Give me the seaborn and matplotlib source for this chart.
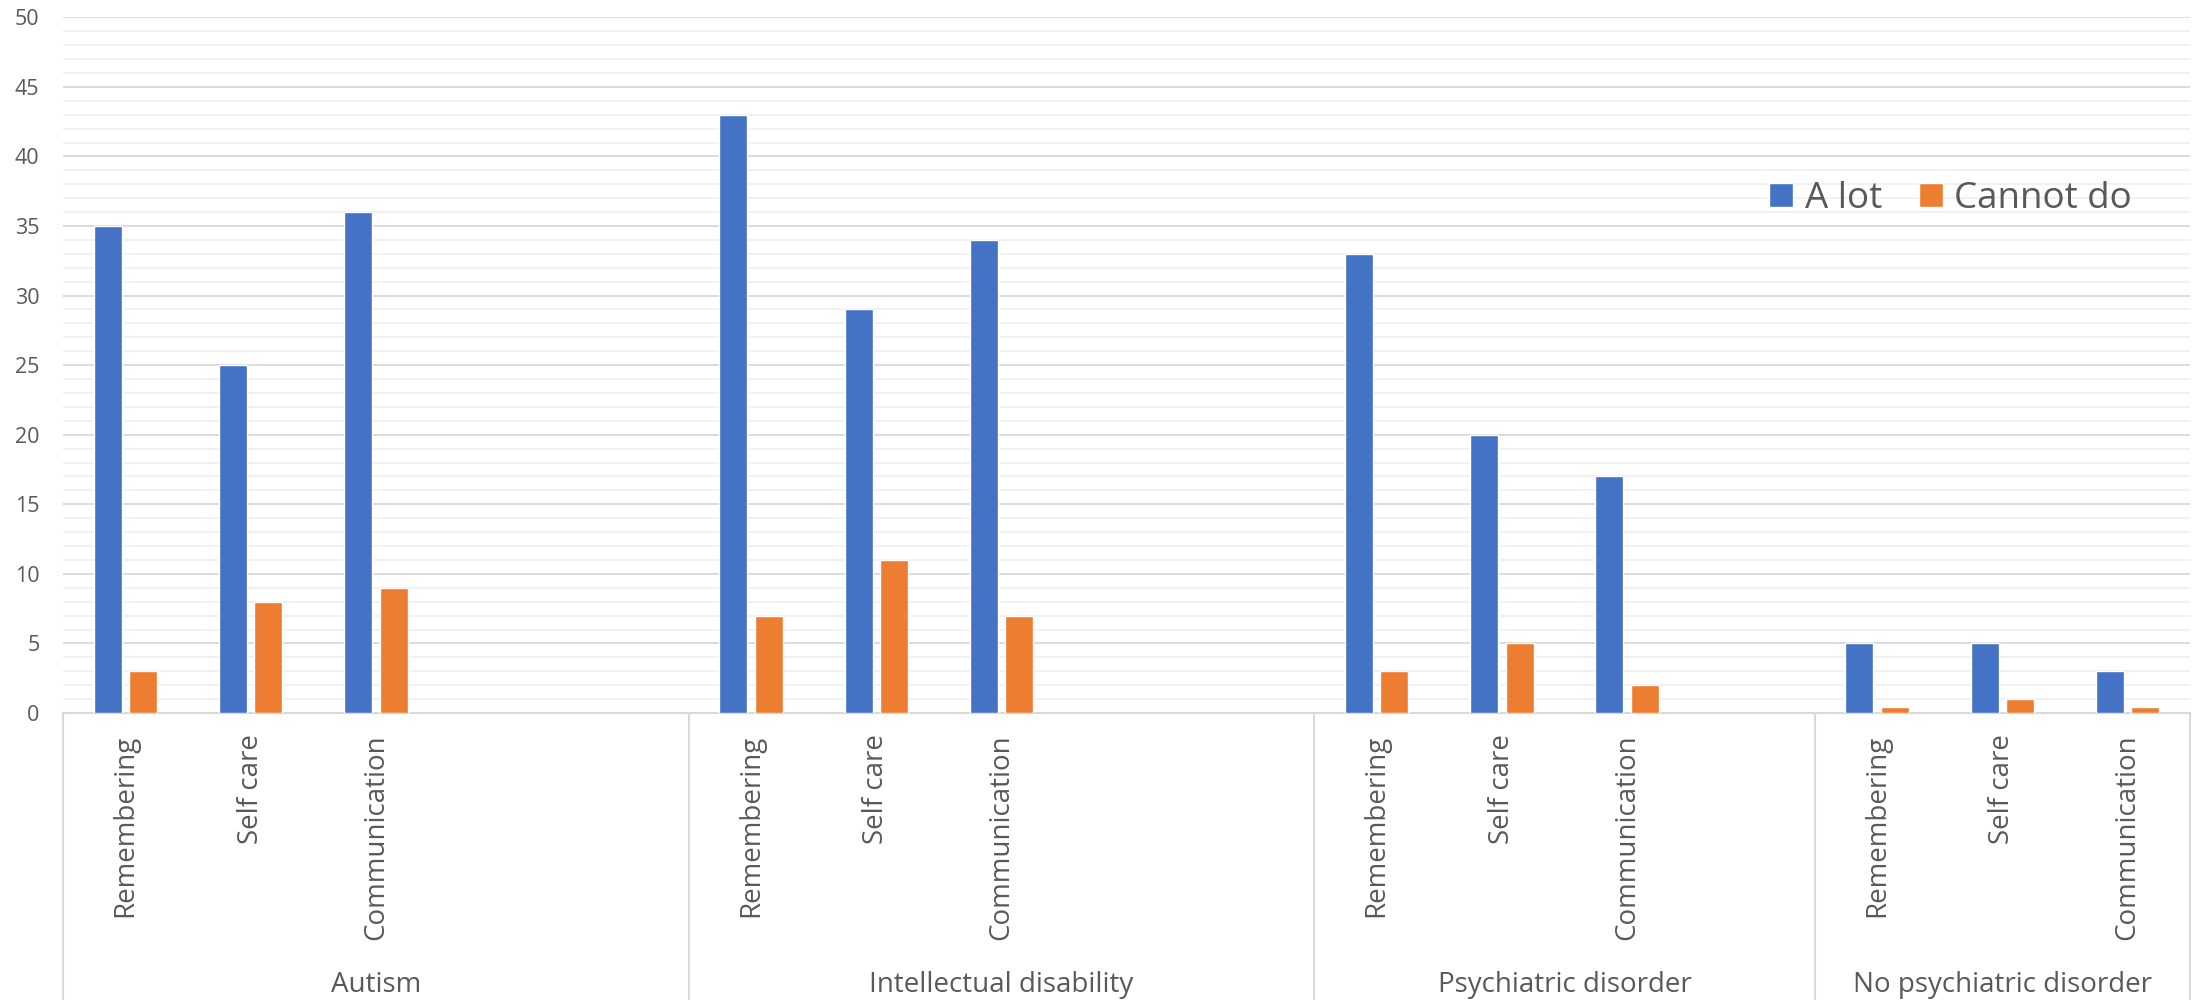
import matplotlib
matplotlib.use("Agg")
import matplotlib.pyplot as plt
import matplotlib.transforms as mtransforms
from matplotlib.lines import Line2D
from matplotlib.ticker import MultipleLocator
import pandas as pd
import seaborn as sns

# ---- data -------------------------------------------------------------
groups = ["Autism", "Intellectual disability", "Psychiatric disorder",
          "No psychiatric disorder"]
domains = ["Remembering", "Self care", "Communication"]
series = ["A lot", "Cannot do"]
a_lot = [35, 25, 36, 43, 29, 34, 33, 20, 17, 5, 5, 3]
cannot_do = [3, 8, 9, 7, 11, 7, 3, 5, 2, 0.4, 1, 0.4]
y_ticks = [0, 5, 10, 15, 20, 25, 30, 35, 40, 45, 50]

# number of category positions each group takes on the axis
group_slots = [5, 5, 4, 3]

colors = ["#4472C4", "#ED7D31"]
text_color = "#595959"
grid_major = "#D9D9D9"
grid_minor = "#F0F0F0"

# ---- long-form table with one slot per axis position -------------------
rows, order, tick_pos, tick_lab = [], [], [], []
k = 0
for gi, g in enumerate(groups):
    for s in range(group_slots[gi]):
        key = f"{g}|{s}"
        order.append(key)
        if s < len(domains):
            idx = gi * len(domains) + s
            rows.append({"slot": key, "series": series[0], "value": a_lot[idx]})
            rows.append({"slot": key, "series": series[1], "value": cannot_do[idx]})
            tick_pos.append(k)
            tick_lab.append(domains[s])
        k += 1
df = pd.DataFrame(rows)

sns.set_style("white")
plt.rcParams["font.family"] = ["Open Sans", "DejaVu Sans"]

W, H = 2203, 1000
fig = plt.figure(figsize=(W / 100, H / 100), dpi=100)
left, right, bottom, top = 63, 2190, 713, 17.3
ax = fig.add_axes([left / W, 1 - bottom / H, (right - left) / W, (bottom - top) / H])

sns.barplot(data=df, x="slot", y="value", hue="series", order=order,
            hue_order=series, palette=colors, width=0.567, gap=0.21,
            saturation=1, errorbar=None, ax=ax, zorder=3)

ax.set_xlim(-0.5, len(order) - 0.5)
ax.set_ylim(0, 50)
ax.set_yticks(y_ticks)
ax.yaxis.set_minor_locator(MultipleLocator(1))
ax.set_axisbelow(True)
ax.grid(which="major", axis="y", color=grid_major, lw=1.3, zorder=0)
ax.grid(which="minor", axis="y", color=grid_minor, lw=1.3, zorder=0)
ax.grid(which="major", axis="x", visible=False)

for side in ("top", "right", "left"):
    ax.spines[side].set_visible(False)
ax.spines["bottom"].set_color(grid_major)
ax.spines["bottom"].set_linewidth(1.5)

ax.set_xticks(tick_pos)
ax.set_xticklabels(tick_lab, rotation=90, ha="center", va="top")
ax.tick_params(axis="x", length=0, pad=15.5, labelsize=20, labelcolor=text_color)
ax.tick_params(axis="y", which="both", length=0, pad=17, labelsize=15.5,
               labelcolor=text_color)
ax.set_xlabel("")
ax.set_ylabel("")

# group separators and group labels under the axis
trans = mtransforms.blended_transform_factory(ax.transData, fig.transFigure)
axis_bottom = 1 - bottom / H
edges = [-0.5]
for n in group_slots:
    edges.append(edges[-1] + n)
for x in edges:
    fig.add_artist(Line2D([x, x], [0, axis_bottom], transform=trans,
                          color=grid_major, lw=1.5))
for gi, g in enumerate(groups):
    cx = (edges[gi] + edges[gi + 1]) / 2
    fig.text(cx, 0.008, g, transform=trans, ha="center", va="baseline",
             fontsize=20, color=text_color)

handles, labels = ax.get_legend_handles_labels()
ax.legend(handles, labels, loc="center left", bbox_to_anchor=(1769 / W, 1 - 199 / H),
          bbox_transform=fig.transFigure, ncol=2, frameon=False, fontsize=26.5,
          handlelength=0.65, handleheight=0.65, handletextpad=0.32,
          columnspacing=1.0, borderpad=0, borderaxespad=0, labelcolor=text_color)

fig.savefig("out.png", dpi=100, facecolor="white")
